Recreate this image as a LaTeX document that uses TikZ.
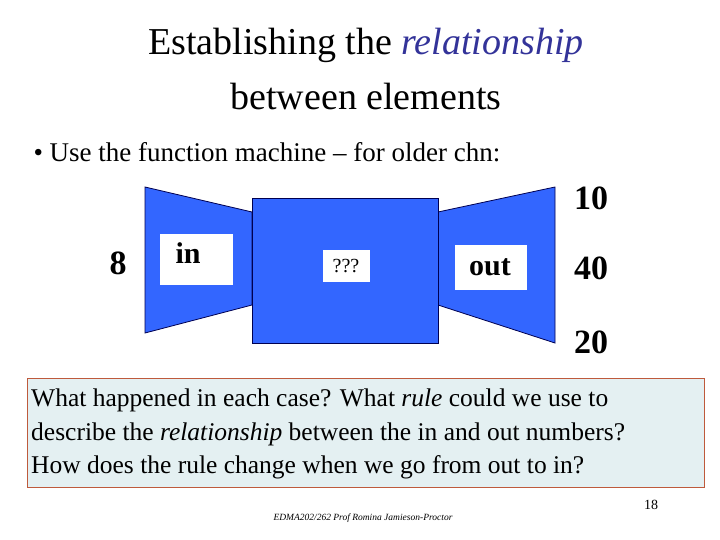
\documentclass[tikz,border=0pt]{standalone}
\usepackage{fontspec}
\setmainfont{Liberation Serif}
\definecolor{mblue}{RGB}{51,102,255}
\definecolor{navy}{RGB}{0,0,80}
\definecolor{rel}{RGB}{51,51,153}
\definecolor{boxfill}{RGB}{228,240,242}
\definecolor{boxline}{RGB}{190,90,60}
\begin{document}
\begin{tikzpicture}[x=1pt,y=-1pt,
  part/.style={fill=mblue,draw=navy,line width=0.8pt},
  num/.style={font=\bfseries\fontsize{34}{40}\selectfont}]
\useasboundingbox (0,0) rectangle (720,540);
\node (t1) at (366,45) {\fontsize{38}{44}\selectfont Establishing the \textcolor{rel}{\itshape relationship}};
\node (t2) at (366,97) {\fontsize{38}{44}\selectfont between elements};
\node[anchor=west] (b) at (30,152) {\fontsize{27}{32}\selectfont • Use the function machine – for older chn:};
\draw[part] (145,187) -- (252,212) -- (252,305) -- (145,333) -- cycle;
\draw[part] (438,212) -- (555,187) -- (555,343) -- (438,305) -- cycle;
\draw[part] (252,198) rectangle (438,343);
\fill[white] (160,234) rectangle (233,285);
\node[anchor=north west,font=\bfseries\fontsize{30}{34}\selectfont] (in) at (172,239) {in};
\fill[white] (323,250) rectangle (370,282);
\node[font=\fontsize{20}{24}\selectfont] (q) at (346,266) {???};
\fill[white] (455,245) rectangle (527,290);
\node[font=\bfseries\fontsize{30}{34}\selectfont] (out) at (490,267) {out};
\node[num] (n8) at (118,263) {8};
\node[num] (n10) at (591,198) {10};
\node[num] (n40) at (591,268) {40};
\node[num] (n20) at (591,342) {20};
\draw[fill=boxfill,draw=boxline,line width=0.8pt] (27,378) rectangle (704,487);
\node[anchor=north west,align=left,font=\fontsize{25.5}{33.5}\selectfont,inner sep=0pt] (txt) at (31,389)
 {What happened in each case? What \textit{rule} could we use to\\
  describe the \textit{relationship} between the in and out numbers?\\
  How does the rule change when we go from out to in?};
\node[font=\fontsize{14}{16}\selectfont] (pg) at (651,505) {18};
\node[font=\itshape\fontsize{9.5}{11}\selectfont] (ft) at (363,518) {EDMA202/262 Prof Romina Jamieson-Proctor};
\end{tikzpicture}
\end{document}
